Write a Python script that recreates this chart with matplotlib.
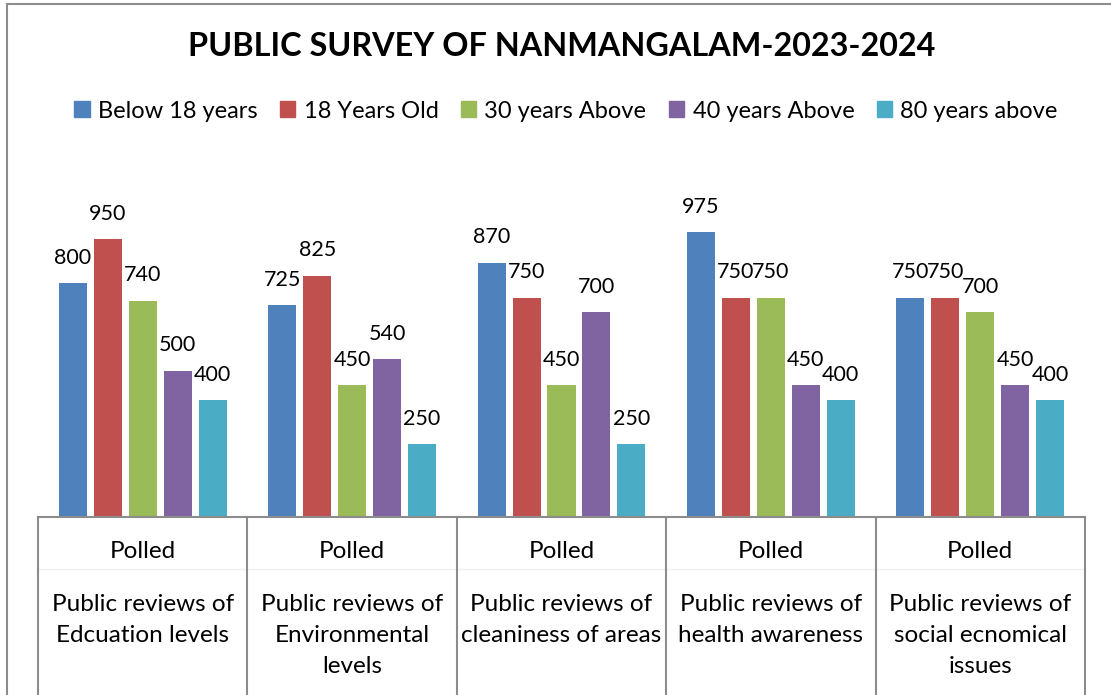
import matplotlib.pyplot as plt
import matplotlib.transforms as mtransforms
from matplotlib.lines import Line2D
from matplotlib.patches import Patch

plt.rcParams['font.family'] = ['Lato', 'DejaVu Sans']

# data
categories = [
    "Public reviews of\nEdcuation levels",
    "Public reviews of\nEnvironmental\nlevels",
    "Public reviews of\ncleaniness of areas",
    "Public reviews of\nhealth awareness",
    "Public reviews of\nsocial ecnomical\nissues",
]
group_label = "Polled"
series_names = ["Below 18 years", "18 Years Old", "30 years Above",
                "40 years Above", "80 years above"]
below_18 = [800, 725, 870, 975, 750]
age_18 = [950, 825, 750, 750, 750]
above_30 = [740, 450, 450, 750, 700]
above_40 = [500, 540, 700, 450, 450]
above_80 = [400, 250, 250, 400, 400]
series = [below_18, age_18, above_30, above_40, above_80]
colors = ["#4F81BD", "#C0504D", "#9BBB59", "#8064A2", "#4BACC6"]

W, H = 1111, 695
fig = plt.figure(figsize=(W / 100, H / 100), dpi=100)
ax = fig.add_axes([38 / W, (H - 517) / H, (1085 - 38) / W, (517 - 166) / H])

bar_w = 0.134
step = 0.167
for j, (vals, name, c) in enumerate(zip(series, series_names, colors)):
    xs = [i + (j - 2) * step for i in range(len(categories))]
    bars = ax.bar(xs, vals, width=bar_w, color=c, label=name)
    ax.bar_label(bars, labels=[str(v) for v in vals], padding=11, fontsize=15.5)

ax.set_xlim(-0.5, len(categories) - 0.5)
ax.set_ylim(0, 1200)
ax.axis('off')

# category axis drawn like excel's multi-level labels
trans = mtransforms.blended_transform_factory(ax.transData, fig.transFigure)
base = (H - 517) / H
ax.add_line(Line2D([-0.5, len(categories) - 0.5], [base, base], transform=trans,
                   color='#8c8c8c', lw=1.5, clip_on=False))
ax.add_line(Line2D([-0.5, len(categories) - 0.5], [(H - 569) / H] * 2, transform=trans,
                   color='#f0f0f0', lw=1, clip_on=False))
for b in range(len(categories) + 1):
    ax.add_line(Line2D([b - 0.5, b - 0.5], [0, base], transform=trans,
                       color='#8c8c8c', lw=1.5, clip_on=False))
for i, cat in enumerate(categories):
    ax.text(i, (H - 552) / H, group_label, transform=trans, ha='center', va='center',
            fontsize=17.5)
    ax.text(i, (H - 594) / H, cat, transform=trans, ha='center', va='top',
            fontsize=17.5, linespacing=1.6)

fig.suptitle("PUBLIC SURVEY OF NANMANGALAM-2023-2024", x=562 / W, y=(H - 47) / H,
             va='center', fontsize=23.3, fontweight='bold')

handles = [Patch(color=c) for c in colors]
fig.legend(handles, series_names, loc='center', bbox_to_anchor=(566 / W, (H - 111) / H),
           ncol=5, frameon=False, fontsize=17, handlelength=0.65, handleheight=0.65,
           handletextpad=0.35, columnspacing=0.95)

# chart border
fig.add_artist(Line2D([7 / W, 7 / W], [0, (H - 4) / H], color='#8c8c8c', lw=1.5))
fig.add_artist(Line2D([7 / W, 1], [(H - 4) / H] * 2, color='#8c8c8c', lw=1.5))

fig.savefig("out.png", dpi=100)
